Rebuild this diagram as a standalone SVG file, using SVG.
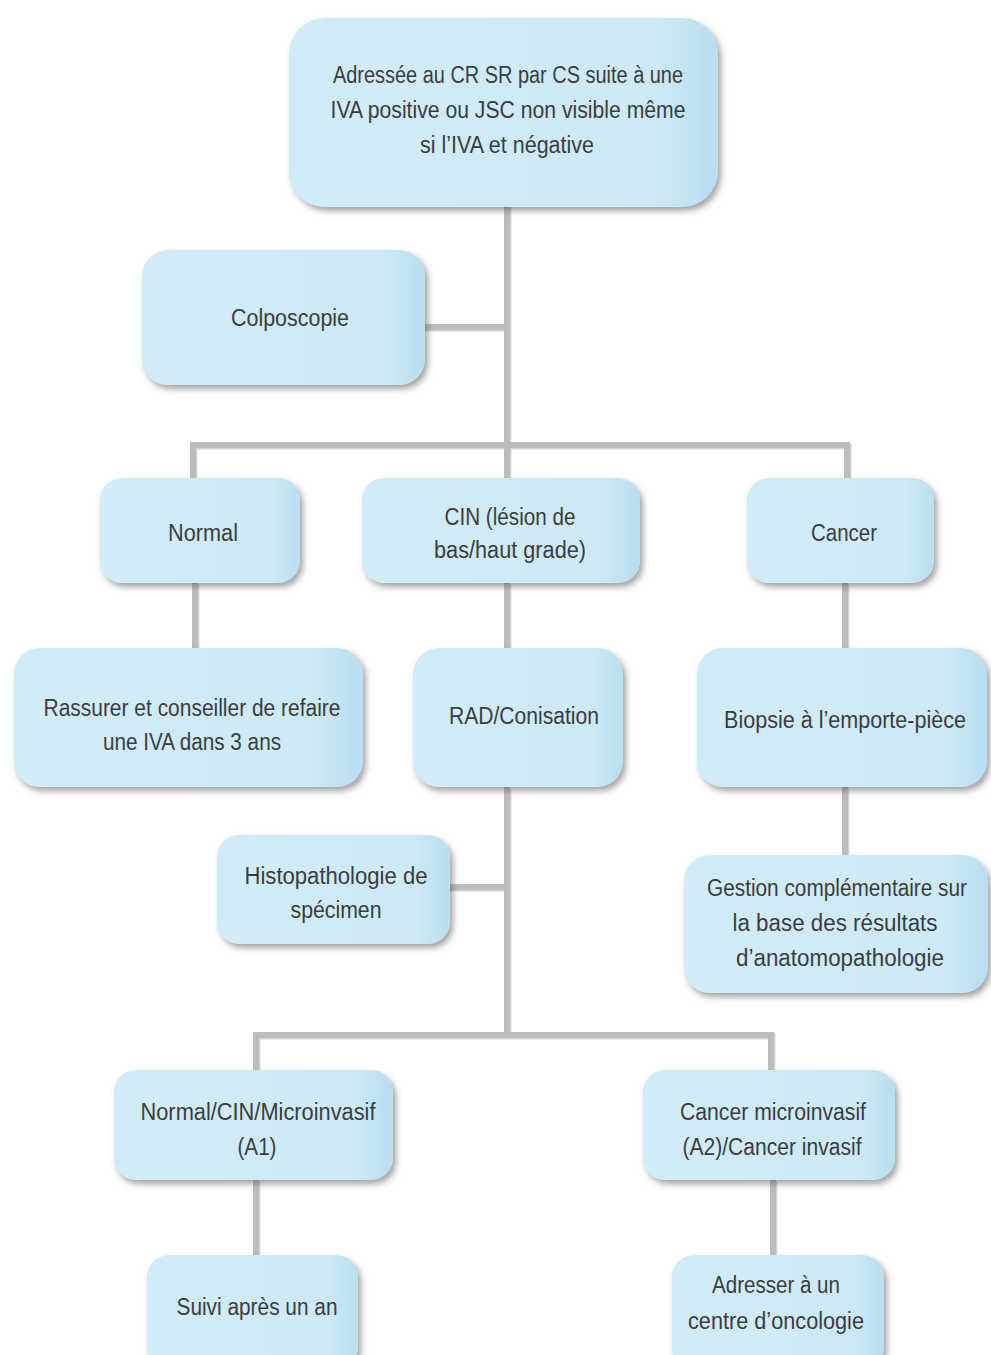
<svg xmlns="http://www.w3.org/2000/svg" width="991" height="1355" viewBox="0 0 991 1355">
  <defs>
    <linearGradient id="boxFill" x1="0" y1="0" x2="1" y2="0">
      <stop offset="0" stop-color="#d2ecf7"/>
      <stop offset="0.85" stop-color="#cde9f5"/>
      <stop offset="1" stop-color="#b9def0"/>
    </linearGradient>
    <filter id="shadow" x="-10%" y="-10%" width="125%" height="130%">
      <feDropShadow dx="3" dy="4" stdDeviation="3" flood-color="#555" flood-opacity="0.55"/>
    </filter>
  </defs>
  <style>
    .box { fill: url(#boxFill); filter: url(#shadow); }
    .lbl { font-family: "Liberation Sans Narrow", "Liberation Sans", Arial, sans-serif; font-size: 23px; fill: #3b3d40; text-anchor: middle; dominant-baseline: central; }
    .conn { fill: none; stroke: #bcbcbc; stroke-width: 6; }
    .conn-sh { fill: none; stroke: #d6d6d6; stroke-width: 6; }
  </style>
  <rect width="991" height="1355" fill="#ffffff"/>

  <!-- connectors: a soft offset copy underneath, then the grey bars -->
  <g id="connectors">
    <g transform="translate(1.5,1.5)">
      <path class="conn-sh" d="M507 205 V445"/>
      <path class="conn-sh" d="M423 327 H507"/>
      <path class="conn-sh" d="M193 478 V445 H847 V478"/>
      <path class="conn-sh" d="M507 445 V480"/>
      <path class="conn-sh" d="M195 583 V650"/>
      <path class="conn-sh" d="M507 583 V650"/>
      <path class="conn-sh" d="M845 583 V650"/>
      <path class="conn-sh" d="M845 787 V857"/>
      <path class="conn-sh" d="M507 787 V1035"/>
      <path class="conn-sh" d="M448 887 H507"/>
      <path class="conn-sh" d="M256 1072 V1035 H771 V1072"/>
      <path class="conn-sh" d="M256 1180 V1257"/>
      <path class="conn-sh" d="M773 1180 V1257"/>
    </g>
    <path class="conn" d="M507 205 V445"/>
    <path class="conn" d="M423 327 H507"/>
    <path class="conn" d="M193 478 V445 H847 V478"/>
    <path class="conn" d="M507 445 V480"/>
    <path class="conn" d="M195 583 V650"/>
    <path class="conn" d="M507 583 V650"/>
    <path class="conn" d="M845 583 V650"/>
    <path class="conn" d="M845 787 V857"/>
    <path class="conn" d="M507 787 V1035"/>
    <path class="conn" d="M448 887 H507"/>
    <path class="conn" d="M256 1072 V1035 H771 V1072"/>
    <path class="conn" d="M256 1180 V1257"/>
    <path class="conn" d="M773 1180 V1257"/>
  </g>

  <g id="n-adressee">
    <rect class="box" x="289" y="18" width="429" height="189" rx="36"/>
    <text class="lbl" x="508" y="75" textLength="350" lengthAdjust="spacingAndGlyphs">Adressée au CR SR par CS suite à une</text>
    <text class="lbl" x="508" y="110" textLength="355" lengthAdjust="spacingAndGlyphs">IVA positive ou JSC non visible même</text>
    <text class="lbl" x="507" y="145" textLength="174" lengthAdjust="spacingAndGlyphs">si l’IVA et négative</text>
  </g>

  <g id="n-colposcopie">
    <rect class="box" x="142" y="250" width="283" height="135" rx="26"/>
    <text class="lbl" x="290" y="318" textLength="118" lengthAdjust="spacingAndGlyphs">Colposcopie</text>
  </g>

  <g id="n-normal">
    <rect class="box" x="100" y="478" width="200" height="105" rx="22"/>
    <text class="lbl" x="203" y="533" textLength="70" lengthAdjust="spacingAndGlyphs">Normal</text>
  </g>

  <g id="n-cin">
    <rect class="box" x="362" y="478" width="278" height="105" rx="22"/>
    <text class="lbl" x="510" y="517" textLength="131" lengthAdjust="spacingAndGlyphs">CIN (lésion de</text>
    <text class="lbl" x="510" y="550" textLength="152" lengthAdjust="spacingAndGlyphs">bas/haut grade)</text>
  </g>

  <g id="n-cancer">
    <rect class="box" x="747" y="478" width="187" height="105" rx="22"/>
    <text class="lbl" x="844" y="533" textLength="66" lengthAdjust="spacingAndGlyphs">Cancer</text>
  </g>

  <g id="n-rassurer">
    <rect class="box" x="14" y="648" width="349" height="139" rx="26"/>
    <text class="lbl" x="192" y="708" textLength="297" lengthAdjust="spacingAndGlyphs">Rassurer et conseiller de refaire</text>
    <text class="lbl" x="192" y="742" textLength="178" lengthAdjust="spacingAndGlyphs">une IVA dans 3 ans</text>
  </g>

  <g id="n-rad">
    <rect class="box" x="413" y="648" width="210" height="139" rx="26"/>
    <text class="lbl" x="524" y="716" textLength="150" lengthAdjust="spacingAndGlyphs">RAD/Conisation</text>
  </g>

  <g id="n-biopsie">
    <rect class="box" x="697" y="648" width="290" height="139" rx="26"/>
    <text class="lbl" x="845" y="720" textLength="242" lengthAdjust="spacingAndGlyphs">Biopsie à l’emporte-pièce</text>
  </g>

  <g id="n-histo">
    <rect class="box" x="217" y="835" width="233" height="109" rx="22"/>
    <text class="lbl" x="336" y="876" textLength="183" lengthAdjust="spacingAndGlyphs">Histopathologie de</text>
    <text class="lbl" x="336" y="910" textLength="91" lengthAdjust="spacingAndGlyphs">spécimen</text>
  </g>

  <g id="n-gestion">
    <rect class="box" x="684" y="855" width="304" height="138" rx="26"/>
    <text class="lbl" x="837" y="888" textLength="260" lengthAdjust="spacingAndGlyphs">Gestion complémentaire sur</text>
    <text class="lbl" x="835" y="923" textLength="205" lengthAdjust="spacingAndGlyphs">la base des résultats</text>
    <text class="lbl" x="840" y="958" textLength="208" lengthAdjust="spacingAndGlyphs">d’anatomopathologie</text>
  </g>

  <g id="n-a1">
    <rect class="box" x="114" y="1070" width="279" height="110" rx="22"/>
    <text class="lbl" x="258" y="1112" textLength="235" lengthAdjust="spacingAndGlyphs">Normal/CIN/Microinvasif</text>
    <text class="lbl" x="257" y="1147" textLength="39" lengthAdjust="spacingAndGlyphs">(A1)</text>
  </g>

  <g id="n-a2">
    <rect class="box" x="643" y="1070" width="252" height="110" rx="22"/>
    <text class="lbl" x="773" y="1112" textLength="186" lengthAdjust="spacingAndGlyphs">Cancer microinvasif</text>
    <text class="lbl" x="772" y="1147" textLength="179" lengthAdjust="spacingAndGlyphs">(A2)/Cancer invasif</text>
  </g>

  <g id="n-suivi">
    <rect class="box" x="147" y="1255" width="211" height="115" rx="22"/>
    <text class="lbl" x="257" y="1307" textLength="161" lengthAdjust="spacingAndGlyphs">Suivi après un an</text>
  </g>

  <g id="n-adresser">
    <rect class="box" x="672" y="1255" width="212" height="115" rx="22"/>
    <text class="lbl" x="776" y="1285" textLength="128" lengthAdjust="spacingAndGlyphs">Adresser à un</text>
    <text class="lbl" x="776" y="1321" textLength="176" lengthAdjust="spacingAndGlyphs">centre d’oncologie</text>
  </g>
</svg>
